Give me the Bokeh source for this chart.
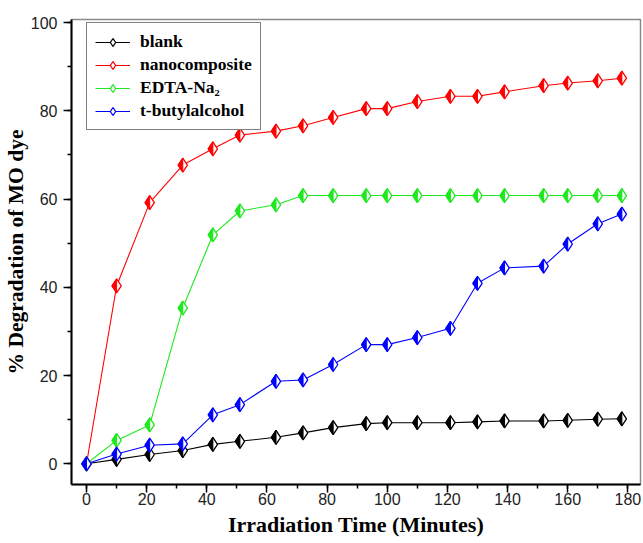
from bokeh.plotting import figure
from bokeh.models import Range1d, SingleIntervalTicker, Legend, LegendItem, ColumnDataSource
from bokeh.embed import file_html
from bokeh.resources import INLINE

# ---- data ----
time_min = [0, 10, 21, 32, 42, 51, 63, 72, 82, 93, 100, 110, 121, 130, 139, 152, 160, 170, 178]
blank = [0, 1.0, 2.1, 3.0, 4.4, 5.1, 6.0, 7.0, 8.2, 9.1, 9.3, 9.3, 9.3, 9.5, 9.7, 9.7, 9.85, 10.1, 10.2]
nanocomposite = [0, 40.3, 59.2, 67.7, 71.4, 74.5, 75.4, 76.6, 78.5, 80.5, 80.5, 82.1, 83.3, 83.3, 84.3, 85.7, 86.3, 86.8, 87.4]
edta_na2 = [0, 5.3, 8.8, 35.3, 51.9, 57.3, 58.7, 60.8, 60.8, 60.8, 60.8, 60.8, 60.8, 60.8, 60.8, 60.8, 60.8, 60.8, 60.8]
t_butylalcohol = [0, 2.2, 4.2, 4.5, 11.1, 13.4, 18.7, 19.0, 22.5, 27.0, 27.0, 28.6, 30.7, 40.9, 44.4, 44.8, 49.8, 54.4, 56.6]

series_names = ["blank", "nanocomposite", "EDTA-Na\u2082", "t-butylalcohol"]
series_values = [blank, nanocomposite, edta_na2, t_butylalcohol]
series_colors = ["#000000", "#ff0000", "#1ee81e", "#0000ff"]

x_ticks_interval = 20
y_ticks_interval = 20

# ---- figure ----
W, H = 642, 541
MB_L, MB_R, MB_T, MB_B = 62, 2, 19, 57
X0, X1 = -5.0, 184.2
Y0, Y1 = -4.7, 100.7

p = figure(width=W, height=H, output_backend="svg", toolbar_location=None,
           x_range=Range1d(X0, X1), y_range=Range1d(Y0, Y1),
           min_border_left=MB_L, min_border_right=MB_R,
           min_border_top=MB_T, min_border_bottom=MB_B)
p.grid.visible = False
p.outline_line_color = "#8a8a8a"
p.outline_line_width = 1.5
p.background_fill_color = "white"
p.border_fill_color = "white"

p.xaxis.ticker = SingleIntervalTicker(interval=x_ticks_interval, num_minor_ticks=2)
p.yaxis.ticker = SingleIntervalTicker(interval=y_ticks_interval, num_minor_ticks=2)

for ax in (p.xaxis, p.yaxis):
    ax.axis_line_color = "black"
    ax.axis_line_width = 2
    ax.major_tick_line_color = "black"
    ax.major_tick_line_width = 1.5
    ax.major_tick_out = 8
    ax.major_tick_in = 0
    ax.minor_tick_line_color = "black"
    ax.minor_tick_line_width = 1.5
    ax.minor_tick_out = 4
    ax.minor_tick_in = 0
    ax.major_label_text_font = "Liberation Sans"
    ax.major_label_text_font_size = "16px"
    ax.major_label_text_color = "#222222"
    ax.axis_label_text_font = "Liberation Serif"
    ax.axis_label_text_font_style = "bold"
    ax.axis_label_text_color = "black"

p.xaxis.axis_label_text_font_size = "22px"
p.yaxis.axis_label_text_font_size = "21.5px"
p.xaxis.axis_label = "Irradiation Time (Minutes)"
p.yaxis.axis_label = "% Degradation of MO dye"
p.xaxis.major_label_standoff = 0
p.xaxis.axis_label_standoff = 4
p.yaxis.major_label_standoff = 6
p.yaxis.axis_label_standoff = 0

# marker geometry (half-filled diamonds)
MSIZE = 14
frame_w = W - MB_L - MB_R
frame_h = H - MB_T - MB_B
px_x = frame_w / (X1 - X0)
px_y = frame_h / (Y1 - Y0)
hx = (MSIZE / 2 / 1.5) / px_x
hy = (MSIZE / 2) / px_y

items = []
for name, vals, col in zip(series_names, series_values, series_colors):
    src = ColumnDataSource(dict(x=time_min, y=vals))
    lr = p.line("x", "y", source=src, line_color=col, line_width=1.1)
    sr = p.scatter("x", "y", source=src, marker="diamond", size=MSIZE,
                   fill_color="white", line_color=col, line_width=1.3)
    xs = [[xv, xv - hx, xv] for xv in time_min]
    ys = [[yv + hy, yv, yv - hy] for yv in vals]
    p.patches(xs, ys, fill_color=col, line_color=col, line_width=1)
    items.append(LegendItem(label=name, renderers=[lr, sr]))

legend = Legend(items=items, location=(15, frame_h - 11 - 100))
legend.label_text_font = "Liberation Serif"
legend.label_text_font_style = "bold"
legend.label_text_font_size = "17.5px"
legend.label_text_color = "black"
legend.border_line_color = "black"
legend.border_line_width = 1.5
legend.background_fill_color = "white"
legend.background_fill_alpha = 1
legend.glyph_width = 35
legend.glyph_height = 20
legend.label_height = 20
legend.label_standoff = 10
legend.spacing = 2
legend.padding = 8
legend.margin = 0
p.add_layout(legend)

open("out.html", "w").write(file_html(p, INLINE))
